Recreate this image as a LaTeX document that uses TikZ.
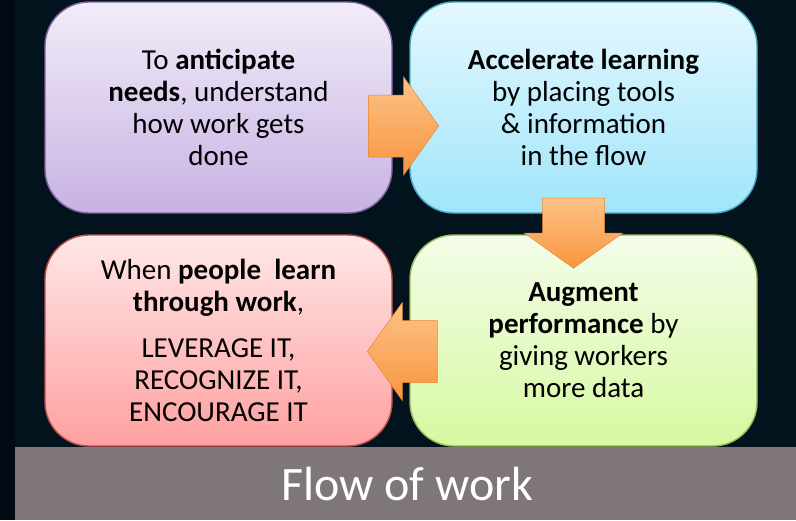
\documentclass[tikz,border=0pt]{standalone}
\usepackage{fontspec}
\setmainfont{Carlito}
\usepackage{xcolor}
\usetikzlibrary{calc}

\definecolor{navybg}{HTML}{03131D}
\definecolor{navyedge}{HTML}{020A15}
\definecolor{bandgrey}{HTML}{7F767B}
\definecolor{lilacedge}{HTML}{8064A2}
\definecolor{lilactop}{HTML}{F2ECF9}
\definecolor{lilacbottom}{HTML}{C7B2E3}
\definecolor{skyedge}{HTML}{4BACC6}
\definecolor{skytop}{HTML}{E4F8FF}
\definecolor{skybottom}{HTML}{A0E5FA}
\definecolor{limeedge}{HTML}{9BBB59}
\definecolor{limetop}{HTML}{F4FCE8}
\definecolor{limebottom}{HTML}{D6F9A2}
\definecolor{roseedge}{HTML}{C0504D}
\definecolor{rosetop}{HTML}{FFE7E7}
\definecolor{rosebottom}{HTML}{FFA0A0}
\definecolor{arrowlight}{HTML}{FDC287}
\definecolor{arrowdark}{HTML}{F7963F}
\definecolor{arrowedge}{HTML}{E8852F}

\begin{document}
\begin{tikzpicture}[x=1pt,y=-1pt,
    card/.style={draw, line width=1.4pt, rounded corners=44pt, minimum width=347pt, minimum height=211pt, align=center, text=black, font=\fontsize{29}{32}\selectfont},
    lilaccard/.style={card, draw=lilacedge, top color=lilactop, bottom color=lilacbottom},
    skycard/.style={card, draw=skyedge, top color=skytop, bottom color=skybottom},
    limecard/.style={card, draw=limeedge, top color=limetop, bottom color=limebottom},
    rosecard/.style={card, draw=roseedge, top color=rosetop, bottom color=rosebottom},
    flowarrow/.pic={
        \shade[top color=arrowlight, bottom color=arrowdark, draw=arrowedge, line width=0.5pt]
            (0,-31) -- (35,-31) -- (35,-49) -- (70,0) -- (35,49) -- (35,31) -- (0,31) -- cycle;
    }]

    \fill[navybg] (0,0) rectangle (796,520);
    \fill[navyedge] (0,0) rectangle (15,520);
    \fill[bandgrey] (15,447) rectangle (796,520);

    \node[lilaccard] (anticipate) at (218.5,107.5) {To \textbf{anticipate}\\ \textbf{needs}, understand\\ how work gets\\ done};
    \node[skycard] (accelerate) at (583.5,107.5) {\textbf{Accelerate learning}\\ by placing tools\\ \& information\\ in the flow};
    \node[limecard] (augment) at (583.5,340.5) {\textbf{Augment}\\ \textbf{performance} by\\ giving workers\\ more data};
    \node[rosecard] (people) at (218.5,340.5) {When \textbf{people\ \ learn}\\ \textbf{through work},\\[14pt] LEVERAGE IT,\\ RECOGNIZE IT,\\ ENCOURAGE IT};

    \pic at ($(anticipate.east)+(-24,18.5)$) {flowarrow};
    \pic[rotate=-90] at ($(accelerate.south)+(-10,-15.5)$) {flowarrow};
    \pic[rotate=180] at ($(augment.west)+(28,11)$) {flowarrow};

    \node[anchor=base, text=white, font=\fontsize{48}{52}\selectfont] (flow) at (407,500) {Flow of work};
\end{tikzpicture}
\end{document}
